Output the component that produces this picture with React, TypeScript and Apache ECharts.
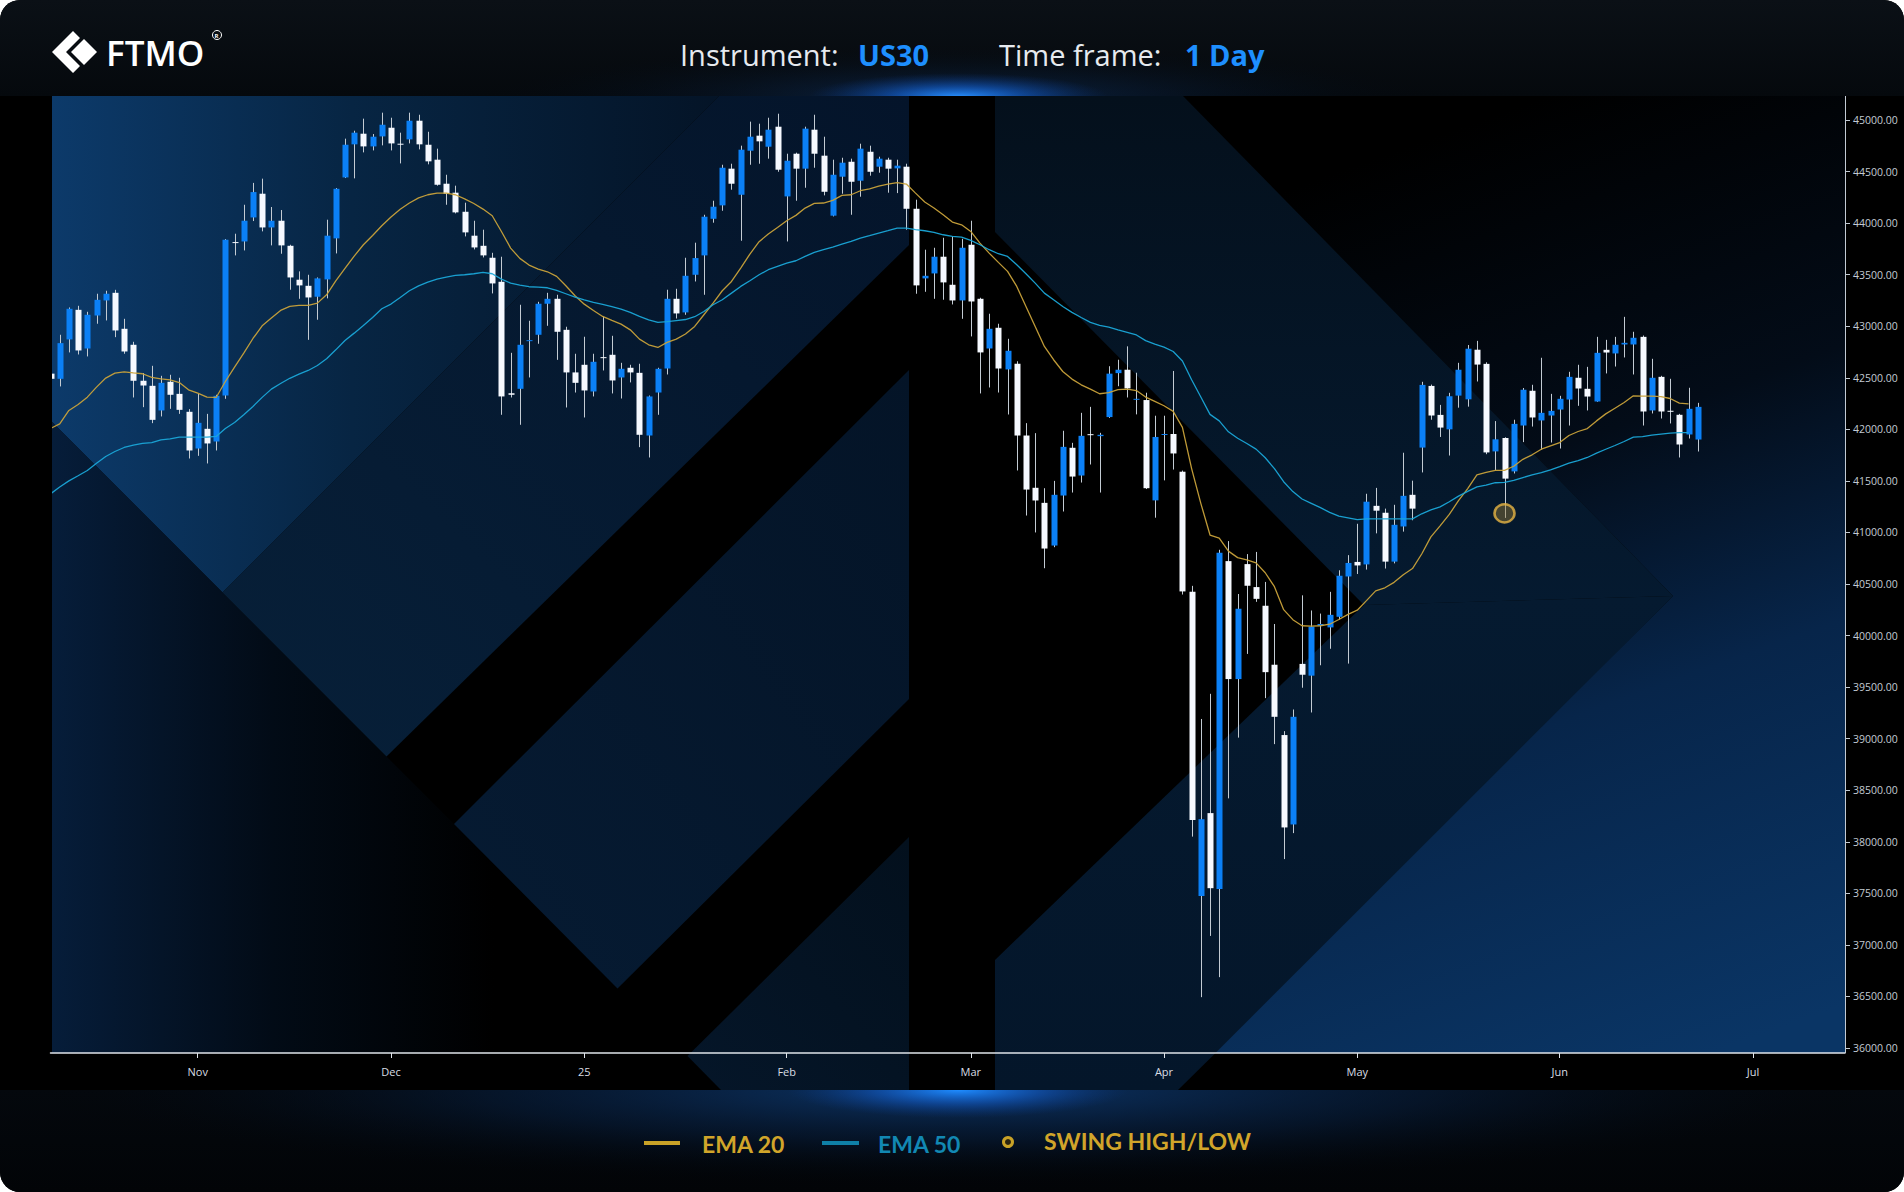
import React, { useEffect, useRef } from "react";
import * as echarts from "echarts";

// ---------- data ----------
const START_DATE = "2024-10-10";
const END_DATE = "2025-07-15";
const CLOSED_DAYS = ["2024-12-25", "2025-01-01", "2025-04-18"];
const MONTH_TICK_LABELS = ["25", "Feb", "Mar", "Apr", "May", "Jun", "Jul", "Aug", "Sep", "Oct", "Nov", "Dec"];
const Y_MIN = 36000;
const Y_MAX = 45000;
const Y_STEP = 500;

const OPEN = [
  42540, 42490, 42872, 43159, 42784, 43104, 43250, 43324, 42975, 42820,
  42471, 42422, 42183, 42461, 42344, 42170, 41814, 42005, 41882, 42328,
  43816, 43822, 44055, 44285, 43958, 44023, 43780, 43451, 43392, 43286,
  43454, 43852, 44443, 44764, 44867, 44744, 44841, 44925, 44770, 44812,
  44993, 44760, 44615, 44382, 44295, 44110, 43878, 43780, 43664, 43431,
  42350, 42393, 42855, 42917, 43218, 43266, 42965, 42552, 42626, 42367,
  42700, 42723, 42503, 42597, 42548, 41940, 42357, 42590, 43266, 43134,
  43499, 43687, 44042, 44172, 44528, 44275, 44702, 44848, 44741, 44935,
  44259, 44673, 44528, 44906, 44654, 44072, 44450, 44595, 44411, 44692,
  44547, 44615, 44531, 44547, 44139, 43464, 43512, 43674, 43402, 43250,
  43790, 43266, 42784, 42985, 42581, 42636, 41940, 41433, 41287, 40873,
  41358, 41821, 41552, 41953, 41934, 42119, 42545, 42578, 42288, 42284,
  41311, 41947, 41955, 41589, 40424, 37474, 38278, 37541, 40722, 39578,
  40693, 40470, 40289, 39717, 39035, 38168, 39725, 39611, 40095, 40079,
  40182, 40573, 40714, 40690, 41258, 41191, 40717, 41058, 41365, 41823,
  42421, 42140, 42000, 42327, 42291, 42772, 42635, 41786, 41916, 41592,
  42037, 42374, 42086, 42134, 42192, 42289, 42500, 42393, 42270, 42771,
  42736, 42823, 42823, 42897, 42183, 42509, 42180, 42141, 41950, 41901,
];
const CLOSE = [
  42490, 42836, 43169, 42765, 43111, 43256, 43315, 42959, 42755, 42471,
  42425, 42092, 42451, 42335, 42189, 41795, 42063, 41863, 42325, 43839,
  43810, 44023, 44301, 43958, 44023, 43784, 43473, 43396, 43279, 43464,
  43878, 44333, 44760, 44877, 44744, 44838, 44954, 44773, 44764, 44993,
  44764, 44599, 44372, 44285, 44104, 43910, 43764, 43687, 43415, 42319,
  42335, 42820, 42865, 43218, 43266, 42946, 42552, 42451, 42377, 42655,
  42695, 42474, 42587, 42552, 41947, 42319, 42587, 43266, 43124, 43489,
  43661, 44062, 44159, 44537, 44382, 44712, 44838, 44793, 44906, 44518,
  44605, 44528, 44916, 44673, 44304, 44469, 44586, 44401, 44722, 44498,
  44625, 44528, 44557, 44139, 43396, 43489, 43674, 43425, 43250, 43761,
  43240, 42746, 42975, 42590, 42762, 41940, 41416, 41310, 40844, 41365,
  41830, 41542, 41937, 41944, 41947, 42540, 42578, 42397, 42296, 41429,
  41926, 41955, 41766, 40428, 38210, 38219, 37550, 40802, 39578, 40260,
  40483, 40356, 39645, 39212, 38139, 39212, 39620, 40087, 40112, 40201,
  40580, 40704, 40680, 41298, 41211, 40717, 41074, 41355, 41231, 42431,
  42134, 42017, 42321, 42578, 42782, 42628, 41776, 41903, 41522, 42053,
  42384, 42115, 42160, 42179, 42296, 42509, 42396, 42318, 42742, 42745,
  42820, 42839, 42888, 42173, 42500, 42173, 42170, 41853, 42199, 42218,
];
const LOW = [
  42450, 42416, 42746, 42726, 42707, 43024, 43056, 42894, 42733, 42309,
  42215, 42060, 42125, 42199, 42150, 41717, 41743, 41669, 41795, 42296,
  43687, 43735, 44020, 43920, 43784, 43703, 43354, 43266, 42868, 43063,
  43270, 43706, 44437, 44434, 44686, 44705, 44754, 44705, 44579, 44773,
  44715, 44570, 44363, 44178, 44094, 43871, 43745, 43667, 43318, 42141,
  42309, 42044, 42503, 42830, 43004, 42674, 42212, 42357, 42115, 42319,
  42571, 42348, 42299, 42455, 41827, 41727, 42141, 42532, 43075, 43111,
  43434, 43305, 44004, 44120, 44324, 43829, 44566, 44576, 44625, 44498,
  43822, 44217, 44343, 44537, 44269, 44065, 44285, 44081, 44256, 44460,
  44489, 44295, 44291, 43936, 43315, 43334, 43266, 43257, 43211, 43072,
  42901, 42348, 42406, 42357, 42144, 41601, 41164, 41000, 40653, 40857,
  41203, 41387, 41484, 41659, 41387, 42111, 42418, 42309, 42145, 41421,
  41143, 41505, 41610, 40398, 38050, 36493, 37087, 36687, 38421, 39010,
  39822, 40327, 39393, 38947, 37832, 38084, 39494, 39254, 39712, 39872,
  40156, 39728, 40597, 40640, 40991, 40650, 40700, 41008, 41118, 41582,
  42093, 41926, 41746, 42210, 42220, 42464, 41759, 41602, 41141, 41572,
  41876, 42027, 41801, 41872, 41814, 42037, 42228, 42183, 42267, 42542,
  42609, 42697, 42532, 42037, 42154, 42105, 42057, 41727, 41911, 41785,
];
const HIGH = [
  42600, 42917, 43182, 43198, 43140, 43315, 43344, 43353, 43072, 42849,
  42545, 42616, 42519, 42529, 42500, 42196, 42344, 42150, 42335, 43845,
  43897, 44178, 44390, 44431, 44156, 44127, 43790, 43532, 43499, 43473,
  44033, 44340, 44819, 44896, 45013, 44864, 45071, 45022, 44877, 45071,
  45051, 44886, 44722, 44469, 44363, 44198, 44023, 43936, 43712, 43674,
  42742, 43208, 43053, 43237, 43324, 43305, 42995, 42733, 42898, 42733,
  43092, 42907, 42645, 42626, 42636, 42328, 42597, 43354, 43363, 43664,
  43810, 44081, 44217, 44566, 44576, 44751, 44984, 44964, 45022, 45061,
  44673, 44683, 44935, 45051, 44838, 44615, 44634, 44625, 44770, 44751,
  44644, 44634, 44615, 44576, 44227, 43742, 43761, 43858, 43868, 43848,
  44023, 43276, 43121, 43024, 42878, 42660, 42060, 41963, 41429, 41500,
  41986, 41869, 42160, 42218, 41966, 42612, 42675, 42805, 42549, 42355,
  42132, 42132, 42566, 41600, 40482, 39191, 39435, 40832, 40916, 40403,
  40790, 40811, 40520, 40112, 39073, 39283, 40390, 40243, 40213, 40424,
  40633, 40780, 41084, 41375, 41432, 41231, 41268, 41773, 41502, 42461,
  42434, 42237, 42354, 42645, 42818, 42858, 42650, 42080, 41923, 42093,
  42401, 42432, 42694, 42344, 42325, 42558, 42626, 42606, 42897, 42868,
  42897, 43091, 42946, 42910, 42684, 42519, 42490, 42150, 42403, 42257,
];
const EMA20 = [
  42008, 42053, 42183, 42241, 42312, 42409, 42497, 42545, 42558, 42548,
  42539, 42503, 42490, 42480, 42454, 42383, 42351, 42312, 42309, 42464,
  42603, 42739, 42881, 43004, 43079, 43153, 43192, 43202, 43202, 43224,
  43305, 43440, 43560, 43680, 43790, 43880, 43975, 44060, 44135, 44195,
  44245, 44275, 44290, 44290, 44275, 44235, 44190, 44136, 44071, 43919,
  43758, 43658, 43593, 43554, 43528, 43483, 43392, 43295, 43214, 43153,
  43095, 43056, 43020, 42965, 42875, 42820, 42794, 42843, 42875, 42925,
  42998, 43111, 43224, 43344, 43434, 43564, 43700, 43820, 43894, 43958,
  44023, 44075, 44146, 44191, 44195, 44220, 44269, 44275, 44314, 44333,
  44359, 44379, 44392, 44379, 44291, 44204, 44146, 44081, 44010, 43984,
  43919, 43806, 43709, 43619, 43532, 43386, 43192, 42998, 42804, 42675,
  42561, 42487, 42432, 42390, 42345, 42357, 42385, 42389, 42376, 42313,
  42271, 42229, 42174, 42019, 41619, 41282, 40975, 40945, 40819, 40756,
  40735, 40705, 40609, 40474, 40251, 40154, 40095, 40091, 40095, 40110,
  40156, 40206, 40246, 40339, 40433, 40463, 40516, 40590, 40650, 40791,
  40957, 41064, 41175, 41308, 41425, 41559, 41582, 41602, 41602, 41642,
  41709, 41753, 41807, 41840, 41872, 41940, 41979, 42008, 42082, 42150,
  42205, 42260, 42325, 42322, 42322, 42318, 42299, 42254, 42247,
];
const EMA50 = [
  41374, 41440, 41500, 41550, 41601, 41672, 41737, 41785, 41824, 41846,
  41863, 41872, 41898, 41908, 41924, 41924, 41924, 41924, 41931, 42008,
  42066, 42141, 42222, 42310, 42390, 42445, 42495, 42535, 42571, 42619,
  42684, 42771, 42862, 42933, 43008, 43085, 43169, 43215, 43279, 43344,
  43392, 43428, 43457, 43476, 43493, 43499, 43509, 43522, 43509, 43457,
  43418, 43399, 43383, 43379, 43373, 43347, 43315, 43282, 43256, 43231,
  43211, 43189, 43166, 43134, 43095, 43062, 43037, 43045, 43055, 43065,
  43092, 43143, 43208, 43257, 43321, 43386, 43441, 43499, 43548, 43580,
  43612, 43635, 43677, 43716, 43742, 43768, 43797, 43823, 43855, 43878,
  43903, 43926, 43952, 43952, 43936, 43926, 43910, 43887, 43871, 43865,
  43832, 43790, 43742, 43703, 43677, 43596, 43509, 43418, 43321, 43257,
  43192, 43134, 43085, 43037, 43008, 42991, 42965, 42940, 42915, 42860,
  42826, 42797, 42755, 42662, 42481, 42313, 42145, 42082, 41976, 41913,
  41863, 41808, 41724, 41619, 41492, 41396, 41324, 41282, 41240, 41195,
  41158, 41141, 41124, 41131, 41131, 41131, 41131, 41131, 41131, 41181,
  41218, 41248, 41298, 41352, 41399, 41442, 41459, 41482, 41485, 41505,
  41532, 41559, 41581, 41607, 41639, 41672, 41697, 41727, 41769, 41807,
  41843, 41882, 41924, 41930, 41943, 41953, 41963, 41969, 41969,
];
const SWING_POINTS = [[158, 41185]];

// ---------- helpers ----------
function buildDays(): string[] {
  const out: string[] = [];
  const d = new Date(START_DATE + "T00:00:00Z");
  const end = new Date(END_DATE + "T00:00:00Z");
  while (d.getTime() <= end.getTime()) {
    const wd = d.getUTCDay();
    const s = d.toISOString().slice(0, 10);
    if (wd !== 0 && wd !== 6 && CLOSED_DAYS.indexOf(s) < 0) out.push(s);
    d.setUTCDate(d.getUTCDate() + 1);
  }
  return out;
}

const BLUE = "#0b80f6";
const WHITE = "#f6f9ff";
const WICK = "#c3cbd3";
const GOLD = "#c9a23a";
const CYAN = "#1aa6d8";

const lin = (x: number, y: number, x2: number, y2: number, stops: [number, string][]) =>
  new echarts.graphic.LinearGradient(x, y, x2, y2, stops.map(([offset, color]) => ({ offset, color })));
const rad = (stops: [number, string][]) =>
  new echarts.graphic.RadialGradient(0.5, 0.5, 0.5, stops.map(([offset, color]) => ({ offset, color })));

const poly = (points: number[][], fill: any, z = 0) => ({
  type: "polygon", silent: true, z, shape: { points }, style: { fill },
});
const rect = (x: number, y: number, w: number, h: number, fill: any, z = 0, r: any = 0) => ({
  type: "rect", silent: true, z, shape: { x, y, width: w, height: h, r }, style: { fill },
});
const ell = (cx: number, cy: number, rx: number, ry: number, fill: any, z = 0) => ({
  type: "ellipse", silent: true, z, shape: { cx, cy, rx, ry }, style: { fill },
});
const txt = (x: number, y: number, text: string, fill: string, size: number, weight: any, family = "Open Sans", z = 20) => ({
  type: "text", silent: true, z, x, y,
  style: {
    text, fill, fontSize: size, fontWeight: weight, fontFamily: family,
    align: "left", textAlign: "left", verticalAlign: "middle", textVerticalAlign: "middle",
  },
});

export default function App() {
  const ref = useRef<HTMLDivElement>(null);

  useEffect(() => {
    document.body.style.margin = "0";
    document.body.style.background = "#ffffff";
    if (!ref.current) return;
    const chart = echarts.init(ref.current, undefined, { renderer: "svg" });

    const days = buildDays();
    const isMonthStart = (i: number) => i > 0 && days[i].slice(5, 7) !== days[i - 1].slice(5, 7);
    const candles = OPEN.map((o, i) => [i, o, CLOSE[i], LOW[i], HIGH[i]]);

    const background: any[] = [
      rect(0, 0, 1904, 1192, "#000000", 0, 20),
      rect(0, 0, 1904, 96, lin(0, 0, 0, 1, [[0, "#0b1016"], [1, "#05090d"]]), 0, [20, 20, 0, 0]),
      ell(958, 97, 520, 55, rad([[0, "rgba(20,75,150,0.45)"], [1, "rgba(0,0,0,0)"]]), 0),
      ell(958, 97, 150, 24, rad([[0, "rgba(40,145,255,1)"], [0.45, "rgba(20,105,230,0.5)"], [1, "rgba(10,60,150,0)"]]), 0),
      rect(0, 1090, 1904, 102, lin(0, 0, 0, 1, [[0, "#04080d"], [1, "#020407"]]), 0, [0, 0, 20, 20]),
      ell(956, 1090, 950, 100, rad([[0, "rgba(14,62,122,0.85)"], [0.5, "rgba(8,36,74,0.45)"], [1, "rgba(0,0,0,0)"]]), 0),
      ell(958, 1090, 170, 28, rad([[0, "rgba(30,140,255,1)"], [0.5, "rgba(20,100,220,0.45)"], [1, "rgba(10,60,150,0)"]]), 0),
      rect(0, 96, 1904, 994, "#000000", 0),
      // left watermark
      poly([[52, 96], [719, 96], [222.5, 592.5], [52, 422]], lin(0, 0, 1, 0, [[0, "#0c3a6a"], [0.45, "#072543"], [1, "#041427"]]), 0),
      poly([[52, 422], [222.5, 592.5], [683, 1053], [52, 1053]], lin(0, 0, 1, 0, [[0, "#061d3a"], [0.35, "#020b16"], [0.7, "#000000"]]), 0),
      poly([[222.5, 592.5], [719, 96], [909, 96], [909, 245], [386.5, 756.5]], lin(0, 1, 1, 0, [[0, "#072039"], [1, "#04142a"]]), 0),
      poly([[454, 824], [909, 370], [909, 699], [617.5, 988.5]], lin(0, 1, 1, 0, [[0, "#061b33"], [1, "#041427"]]), 0),
      poly([[687.5, 1056], [909, 837], [909, 1090], [721, 1090]], lin(0, 1, 1, 0, [[0, "#051629"], [1, "#03101d"]]), 0),
      // right watermark
      poly([[1183, 96], [1845, 96], [1845, 1053], [1212.5, 1053], [1673, 596]],
        lin(0.55, 0, 0.8, 1, [[0, "#000000"], [0.35, "#030c18"], [0.62, "#07254a"], [1, "#0a3565"]]), 0),
      poly([[995, 96], [1183, 96], [1673, 596], [1364, 605], [995, 232]], lin(0, 0, 0, 1, [[0, "#04101c"], [1, "#051a30"]]), 0),
      poly([[1364, 605], [1673, 596], [1212.5, 1056], [1178, 1090], [995, 1090], [995, 960]], lin(0, 0, 0, 1, [[0, "#051a30"], [1, "#04162a"]]), 0),
    ];

    const foreground: any[] = [
      rect(0, 96, 52, 956, "#000000", 15),
      { type: "line", silent: true, z: 15, shape: { x1: 1845.5, y1: 96, x2: 1845.5, y2: 1053 }, style: { stroke: "#c2cad3", lineWidth: 1 } },
      // logo
      poly([[52, 52], [73, 31], [80, 38], [66, 52], [80, 66], [73, 73]], "#ffffff", 20),
      poly([[84, 39], [97, 52], [84, 65], [71, 52]], "#ffffff", 20),
      txt(106, 52, "FTMO", "#ffffff", 35, 600),
      { type: "circle", silent: true, z: 20, shape: { cx: 217, cy: 35, r: 4.5 }, style: { fill: "none", stroke: "#ffffff", lineWidth: 1 } },
      txt(214.6, 35.5, "R", "#ffffff", 6, 700),
      // header
      txt(680, 54, "Instrument:", "#e6eaef", 29, 400),
      txt(858, 54, "US30", "#1e8fff", 29, 700),
      txt(999, 54, "Time frame:", "#e6eaef", 29, 400),
      txt(1185, 54, "1 Day", "#1e8fff", 29, 700),
      // legend
      rect(644, 1141, 36, 4, "#c9a227", 20),
      txt(702, 1144, "EMA 20", "#d1a52a", 23, 700, "Lato"),
      rect(822, 1141, 37, 4, "#0f80a7", 20),
      txt(878, 1144, "EMA 50", "#1288b3", 23, 700, "Lato"),
      { type: "circle", silent: true, z: 20, shape: { cx: 1008, cy: 1142, r: 4.5 }, style: { fill: "#2a2410", stroke: "#c9a227", lineWidth: 3 } },
      txt(1044, 1141, "SWING HIGH/LOW", "#d1a52a", 23, 700, "Lato"),
    ];

    const option: any = {
      animation: false,
      backgroundColor: "transparent",
      grid: { left: 50.5, right: 59, top: 120, bottom: 144, containLabel: false, outerBoundsMode: "none" },
      xAxis: {
        type: "category",
        data: days,
        boundaryGap: false,
        offset: 5,
        z: 5,
        axisLine: { show: true, lineStyle: { color: "#dfe4ea", width: 1.5 } },
        axisTick: { show: true, interval: (i: number) => isMonthStart(i), length: 5, lineStyle: { color: "#dfe4ea" } },
        axisLabel: {
          interval: (i: number) => isMonthStart(i),
          formatter: (v: string) => MONTH_TICK_LABELS[parseInt(v.slice(5, 7), 10) - 1],
          color: "#d8dde4",
          fontSize: 11,
          fontFamily: "Open Sans",
          margin: 13,
        },
        splitLine: { show: false },
      },
      yAxis: {
        type: "value",
        position: "right",
        min: Y_MIN,
        max: Y_MAX,
        interval: Y_STEP,
        z: 5,
        axisLine: { show: false },
        axisTick: { show: true, length: 5, lineStyle: { color: "#c2cad3" } },
        axisLabel: {
          formatter: (v: number) => v.toFixed(2),
          color: "#c3cbd4",
          fontSize: 10.5,
          fontFamily: "Open Sans",
          margin: 8,
        },
        splitLine: { show: false },
      },
      series: [
        {
          type: "custom",
          name: "US30",
          z: 6,
          clip: false,
          data: candles,
          encode: { x: 0, y: [1, 2, 3, 4] },
          renderItem: (params: any, api: any) => {
            const i = api.value(0);
            const o = api.value(1);
            const c = api.value(2);
            const l = api.value(3);
            const h = api.value(4);
            const pH = api.coord([i, h]);
            const pL = api.coord([i, l]);
            const pO = api.coord([i, o]);
            const pC = api.coord([i, c]);
            const cx = Math.round(pH[0]);
            const y1 = Math.min(pO[1], pC[1]);
            const bh = Math.max(1, Math.abs(pO[1] - pC[1]));
            return {
              type: "group",
              children: [
                { type: "line", shape: { x1: cx + 0.5, y1: pH[1], x2: cx + 0.5, y2: pL[1] }, style: { stroke: WICK, lineWidth: 1 } },
                { type: "rect", shape: { x: cx - 2.5, y: y1, width: 6, height: bh }, style: { fill: c > o ? BLUE : WHITE } },
              ],
            };
          },
        },
        {
          type: "line",
          name: "EMA 20",
          z: 7,
          data: EMA20,
          showSymbol: false,
          symbol: "none",
          lineStyle: { color: GOLD, width: 1.3, opacity: 0.95 },
        },
        {
          type: "line",
          name: "EMA 50",
          z: 7,
          data: EMA50,
          showSymbol: false,
          symbol: "none",
          lineStyle: { color: CYAN, width: 1.3, opacity: 0.95 },
        },
        {
          type: "scatter",
          name: "Swing",
          z: 8,
          data: SWING_POINTS,
          symbol: "circle",
          symbolSize: [20, 18],
          itemStyle: { color: "rgba(150,122,55,0.55)", borderColor: "#e6b443", borderWidth: 2.5 },
        },
      ],
      graphic: { elements: [...background, ...foreground] },
    };

    chart.setOption(option);
    return () => chart.dispose();
  }, []);

  return <div ref={ref} style={{ width: 1904, height: 1192 }} />;
}
